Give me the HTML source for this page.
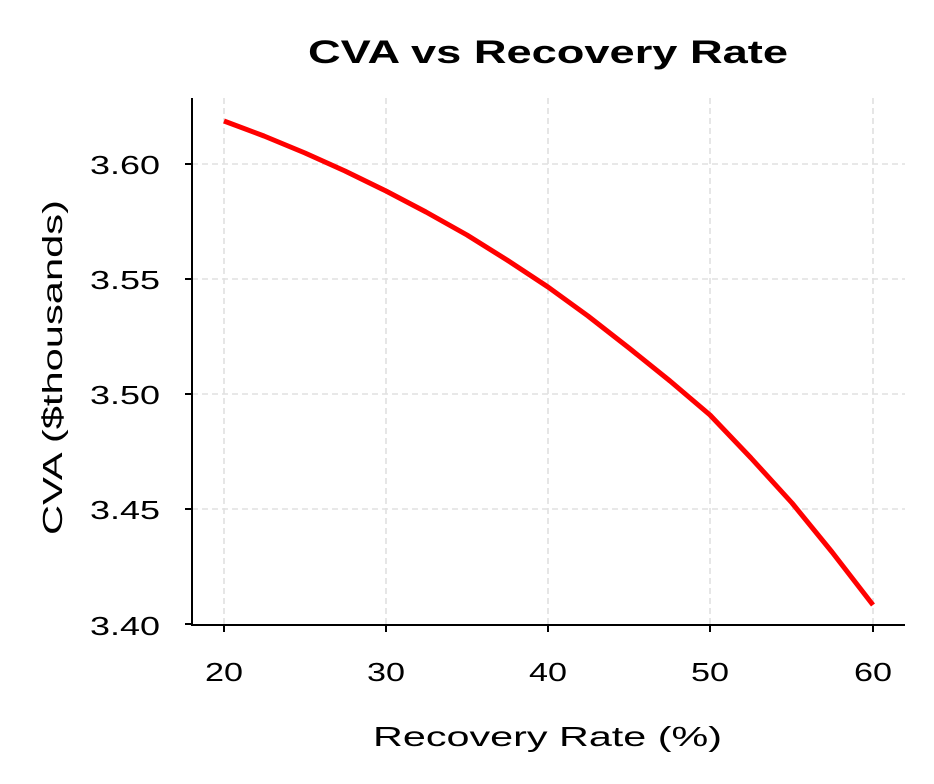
<!DOCTYPE html>
<html><head><meta charset="utf-8"><style>
html,body{margin:0;padding:0;background:#fff;}
svg{display:block;font-family:"Liberation Sans","DejaVu Sans",sans-serif;}
</style></head><body>
<svg width="934" height="784" viewBox="0 0 934 784" xmlns="http://www.w3.org/2000/svg">
<rect width="934" height="784" fill="#fff"/>
<g stroke="#e0e0e0" stroke-width="1.6" stroke-dasharray="6,4">
<line x1="224" y1="98" x2="224" y2="625"/>
<line x1="386" y1="98" x2="386" y2="625"/>
<line x1="548" y1="98" x2="548" y2="625"/>
<line x1="710" y1="98" x2="710" y2="625"/>
<line x1="873" y1="98" x2="873" y2="625"/>
<line x1="192" y1="164" x2="905" y2="164"/>
<line x1="192" y1="279" x2="905" y2="279"/>
<line x1="192" y1="394" x2="905" y2="394"/>
<line x1="192" y1="509" x2="905" y2="509"/>
</g>
<polyline fill="none" stroke="#ff0000" stroke-width="5" stroke-linejoin="round"
points="224,121 264,136 305,153 345,171 386,191 426,212 467,235 507,260 548,287 588,316 629,348 670,381 710,415 751,458 792,503 832,552 873,605"/>
<g stroke="#000" stroke-width="2">
<line x1="192" y1="98" x2="192" y2="626"/>
<line x1="191" y1="625" x2="905" y2="625"/>
<line x1="224" y1="625" x2="224" y2="632"/>
<line x1="386" y1="625" x2="386" y2="632"/>
<line x1="548" y1="625" x2="548" y2="632"/>
<line x1="710" y1="625" x2="710" y2="632"/>
<line x1="873" y1="625" x2="873" y2="632"/>
<line x1="185" y1="164" x2="192" y2="164"/>
<line x1="185" y1="279" x2="192" y2="279"/>
<line x1="185" y1="394" x2="192" y2="394"/>
<line x1="185" y1="509" x2="192" y2="509"/>
<line x1="185" y1="624" x2="192" y2="624"/>
</g>
<g font-size="26" fill="#000">
<text x="205" y="681" textLength="38" lengthAdjust="spacingAndGlyphs">20</text>
<text x="367" y="681" textLength="38" lengthAdjust="spacingAndGlyphs">30</text>
<text x="529" y="681" textLength="38" lengthAdjust="spacingAndGlyphs">40</text>
<text x="691" y="681" textLength="38" lengthAdjust="spacingAndGlyphs">50</text>
<text x="854" y="681" textLength="38" lengthAdjust="spacingAndGlyphs">60</text>
</g>
<g font-size="26" fill="#000">
<text x="90" y="174" textLength="70" lengthAdjust="spacingAndGlyphs">3.60</text>
<text x="90" y="289" textLength="70" lengthAdjust="spacingAndGlyphs">3.55</text>
<text x="90" y="404" textLength="70" lengthAdjust="spacingAndGlyphs">3.50</text>
<text x="90" y="519" textLength="70" lengthAdjust="spacingAndGlyphs">3.45</text>
<text x="90" y="635" textLength="70" lengthAdjust="spacingAndGlyphs">3.40</text>
</g>
<text x="373" y="746" font-size="28" textLength="349" lengthAdjust="spacingAndGlyphs">Recovery Rate (%)</text>
<text transform="translate(62,535) rotate(-90)" font-size="28" textLength="335" lengthAdjust="spacingAndGlyphs">CVA ($thousands)</text>
<text x="308" y="63" font-size="32" font-weight="bold" textLength="480" lengthAdjust="spacingAndGlyphs">CVA vs Recovery Rate</text>
</svg>
</body></html>
